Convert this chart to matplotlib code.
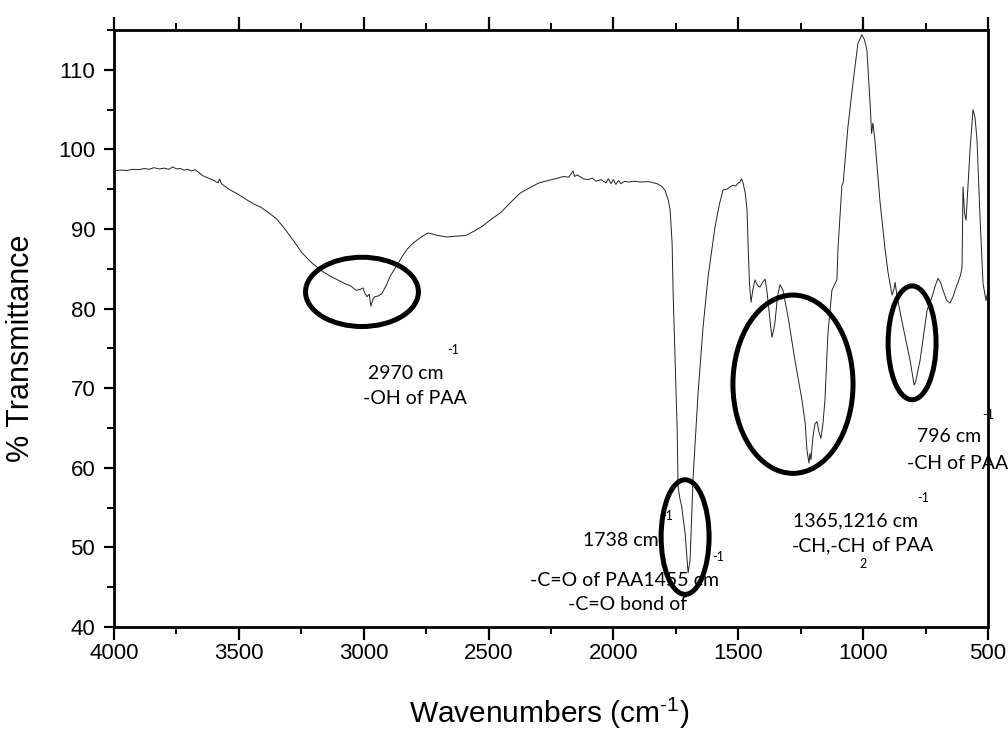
import matplotlib
matplotlib.use("Agg")
import matplotlib.pyplot as plt
from matplotlib.patches import Ellipse
from matplotlib.ticker import MultipleLocator

# ---------------- data ----------------
wavenumber = [
    4000, 3975, 3950, 3925, 3900, 3880, 3860, 3840, 3820, 3800, 3780, 3765, 3750, 3735,
    3720, 3705, 3690, 3675, 3660, 3645, 3630, 3615, 3600, 3590, 3583, 3577, 3570, 3540,
    3500, 3470, 3443, 3410, 3383, 3350, 3323, 3285, 3247, 3210, 3171, 3130, 3079, 3050,
    3031, 3015, 3003, 2995, 2987, 2978, 2971, 2963, 2955, 2940, 2927, 2910, 2895, 2870,
    2847, 2825, 2803, 2770, 2743, 2705, 2667, 2630, 2590, 2560, 2527, 2490, 2450, 2410,
    2374, 2340, 2298, 2260, 2222, 2200, 2180, 2170, 2162, 2155, 2145, 2120, 2100, 2085,
    2070, 2050, 2030, 2020, 2010, 2000, 1990, 1980, 1970, 1955, 1940, 1918, 1890, 1860,
    1840, 1826, 1808, 1794, 1780, 1773, 1765, 1761, 1753, 1745, 1741, 1733, 1727, 1713,
    1701, 1693, 1681, 1661, 1641, 1621, 1593, 1575, 1561, 1545, 1533, 1520, 1510, 1500,
    1493, 1487, 1481, 1472, 1465, 1461, 1455, 1449, 1441, 1433, 1423, 1413, 1403, 1393,
    1387, 1381, 1373, 1365, 1358, 1353, 1343, 1333, 1321, 1301, 1273, 1245, 1232, 1225,
    1217, 1213, 1209, 1201, 1193, 1185, 1177, 1169, 1161, 1153, 1141, 1125, 1110, 1105,
    1101, 1093, 1085, 1080, 1061, 1041, 1021, 1005, 995, 985, 973, 966, 961, 953,
    933, 912, 900, 884, 876, 872, 868, 864, 840, 812, 796, 790, 772, 744,
    724, 710, 700, 690, 680, 665, 652, 640, 632, 620, 610, 604, 600, 594,
    588, 580, 572, 560, 552, 544, 532, 520, 508, 500,
]
transmittance = [
    97.3, 97.4, 97.35, 97.5, 97.45, 97.6, 97.5, 97.7, 97.55, 97.65, 97.5, 97.8, 97.55, 97.6,
    97.4, 97.5, 97.3, 97.45, 97.1, 96.7, 96.5, 96.3, 96.1, 95.9, 95.8, 96.3, 95.7, 95.0,
    94.3, 93.7, 93.2, 92.7, 92.1, 91.3, 90.3, 88.7, 87.0, 85.8, 84.8, 84.0, 83.2, 82.8,
    82.3, 82.4, 82.6, 81.9, 81.5, 81.8, 80.3, 81.2, 81.5, 81.6, 81.9, 82.9, 84.0, 85.3,
    86.5, 87.5, 88.2, 89.0, 89.5, 89.2, 89.0, 89.1, 89.2, 89.7, 90.3, 91.2, 92.1, 93.4,
    94.5, 95.1, 95.8, 96.1, 96.4, 96.6, 96.5, 96.9, 97.3, 96.6, 96.8, 96.3, 96.2, 96.4,
    96.0, 96.2, 95.8, 96.3, 95.7, 96.2, 95.6, 96.1, 95.7, 96.0, 95.9, 96.0, 95.9, 95.95,
    95.8, 95.7, 95.4, 94.9, 93.6, 92.4, 88.2, 82.0, 73.5, 65.1, 57.6, 56.0, 55.2, 51.8,
    46.8, 48.4, 58.8, 69.4, 77.7, 84.0, 90.3, 93.2, 94.9, 95.0, 95.3, 95.5, 95.4, 95.8,
    95.9, 96.3, 95.8, 94.5, 92.4, 88.2, 83.0, 80.8, 82.5, 83.6, 82.9, 82.7, 83.3, 83.7,
    82.6, 81.0, 78.5, 76.4, 77.4, 78.3, 81.5, 83.0, 82.3, 79.0, 73.5, 68.5, 65.6, 62.2,
    60.6, 61.8, 61.0, 63.9, 65.5, 65.8, 64.5, 63.7, 65.5, 68.5, 76.9, 82.3, 83.3, 83.6,
    87.4, 91.5, 95.5, 95.8, 102.8, 108.3, 113.3, 114.4, 113.8, 112.5, 106.2, 102.0, 103.3, 101.2,
    93.6, 87.4, 84.5, 81.7, 82.5, 83.3, 82.4, 81.5, 77.7, 73.5, 70.4, 70.8, 73.5, 79.8,
    81.5, 83.0, 83.8, 83.3, 82.3, 81.0, 80.7, 81.5, 82.3, 83.3, 84.2, 85.2, 95.3, 92.0,
    91.1, 95.5, 99.9, 105.0, 104.0, 101.2, 91.5, 83.2, 81.0, 82.3,
]

x_ticks = [4000, 3500, 3000, 2500, 2000, 1500, 1000, 500]
y_ticks = [40, 50, 60, 70, 80, 90, 100, 110]

# ---------------- figure ----------------
plt.rcParams['font.family'] = ['Liberation Sans', 'DejaVu Sans']
plt.rcParams['mathtext.fontset'] = 'custom'
plt.rcParams['mathtext.rm'] = 'Liberation Sans'

fig = plt.figure(figsize=(10.08, 7.31), dpi=100)
ax = fig.add_axes([114 / 1008, 1 - 627 / 731, 874 / 1008, 597 / 731])

ax.plot(wavenumber, transmittance, color='#222222', lw=0.7)

ax.set_xlim(4000, 500)
ax.set_ylim(40, 115)
ax.set_xticks(x_ticks)
ax.set_yticks(y_ticks)
ax.xaxis.set_minor_locator(MultipleLocator(250))
ax.yaxis.set_minor_locator(MultipleLocator(5))

ax.tick_params(axis='x', which='major', direction='out', length=9.5, width=1.6,
               top=True, bottom=True, labelsize=16, pad=2)
ax.tick_params(axis='x', which='minor', direction='out', length=5, width=1.4,
               top=True, bottom=True)
ax.tick_params(axis='y', which='major', direction='out', length=7.5, width=1.6,
               left=True, right=False, labelsize=16, pad=6)
ax.tick_params(axis='y', which='minor', direction='out', length=5, width=1.4,
               left=True, right=False)
for s in ax.spines.values():
    s.set_linewidth(2.0)

ax.set_xlabel('Wavenumbers (cm$^{\\mathregular{\u2010}1}$)', fontsize=21.5)
ax.xaxis.set_label_coords(0.498, -0.114)
ax.set_ylabel('% Transmittance', fontsize=22)
ax.yaxis.set_label_coords(-0.089, 0.467)

# ---------------- highlight ellipses ----------------
ellipses = [
    ((3007, 82.1), 452, 8.7),
    ((1713, 51.3), 192, 14.4),
    ((1281, 70.5), 481, 22.4),
    ((804, 75.7), 192, 14.3),
]
for (cx, cy), w, h in ellipses:
    ax.add_patch(Ellipse((cx, cy), w, h, fill=False, edgecolor='black', lw=3.6,
                         zorder=5))

# ---------------- annotations ----------------
ann = dict(fontfamily='Lato', fontsize=14, color='black', ha='left', va='center',
           clip_on=False, zorder=6)
sup = dict(fontfamily='Lato', fontsize=9, color='black', ha='left', va='center',
           clip_on=False, zorder=4)

ax.text(2983, 71.9, '2970 cm', **ann)
ax.text(2666, 74.8, '-1', **sup)
ax.text(3003, 68.7, '-OH of PAA', **ann)

ax.text(2122, 50.9, '1738 cm', **ann)
ax.text(1810, 53.9, '-1', **sup)
ax.text(2334, 45.9, '-C=O of PAA1455 cm', **ann)
ax.text(1605, 48.8, '-1', **sup)
ax.text(2182, 42.8, '-C=O bond of', **ann)

ax.text(1281, 53.3, '1365,1216 cm', **ann)
ax.text(784, 56.2, '-1', **sup)
ax.text(1285, 50.2, '-CH,-CH', **ann)
ax.text(1001, 47.9, '2', **dict(sup, ha='center'))
ax.text(965, 50.2, 'of PAA', **ann)

ax.text(784, 63.9, '796 cm', **ann)
ax.text(524, 66.6, '-1', **sup)
ax.text(824, 60.6, '-CH of PAA', **ann)

fig.savefig('out.png', dpi=100, facecolor='white')
